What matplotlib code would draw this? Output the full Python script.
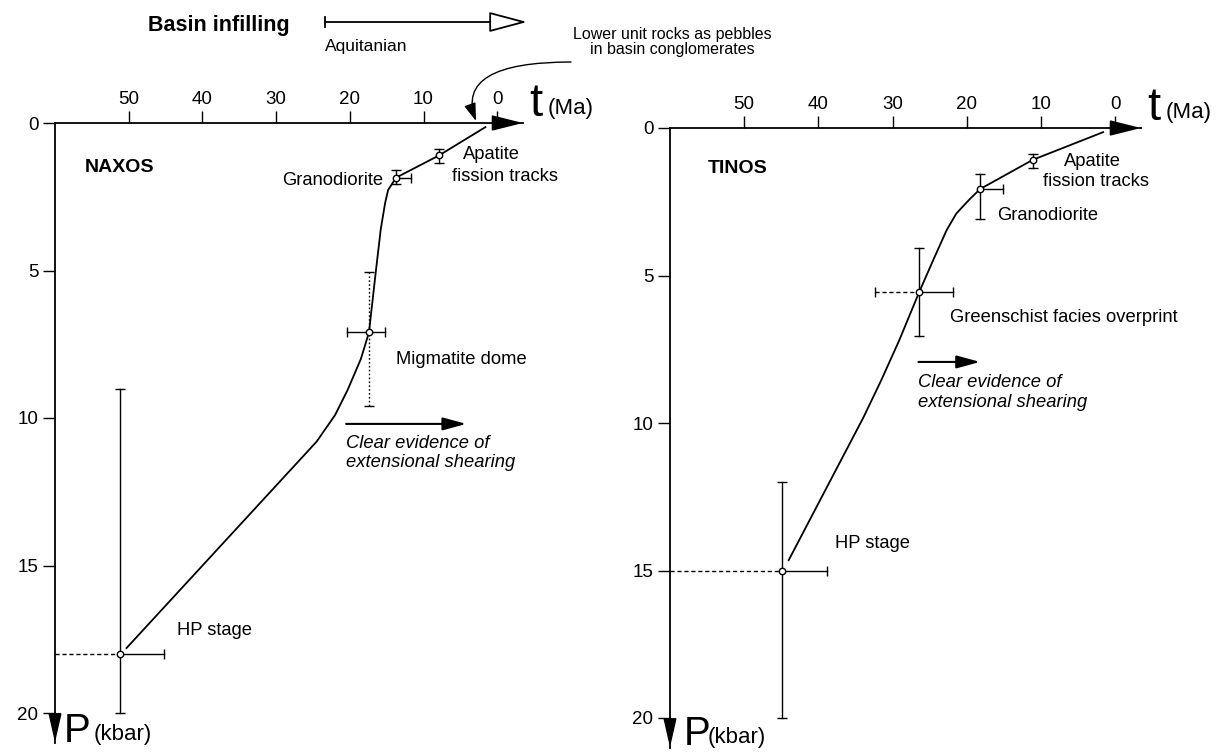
import matplotlib
matplotlib.use("Agg")
import matplotlib.pyplot as plt
from matplotlib.patches import FancyArrowPatch
from matplotlib.lines import Line2D

plt.rcParams['font.family'] = ['Liberation Sans', 'DejaVu Sans']

# ---------------- data ----------------
T_TICKS = [50, 40, 30, 20, 10, 0]
P_TICKS = [0, 5, 10, 15, 20]

# NAXOS P-T-t path (t in Ma, P in kbar)
naxos_curve_t = [50.3, 24.5, 22.0, 20.3, 18.5, 17.4, 16.5, 15.8, 15.2, 14.8, 14.1, 13.7, 7.9, 1.6]
naxos_curve_P = [17.8, 10.8, 9.9, 9.05, 8.0, 7.1, 5.1, 3.6, 2.7, 2.27, 2.0, 1.85, 1.1, 0.14]
naxos_labels = ["HP stage", "Migmatite dome", "Granodiorite", "Apatite fission tracks"]
naxos_t = [51.2, 17.4, 13.7, 7.9]
naxos_P = [18.0, 7.1, 1.85, 1.1]
naxos_t_old = [60.0, 20.4, None, None]
naxos_t_young = [45.2, 15.2, 11.7, None]
naxos_P_low = [9.0, 5.05, 1.6, 0.88]
naxos_P_high = [20.0, 9.6, 2.07, 1.36]

# TINOS P-T-t path
tinos_curve_t = [44.0, 38.9, 33.9, 31.5, 29.1, 26.4, 24.5, 22.7, 21.4, 19.7, 18.2, 11.1, 1.6]
tinos_curve_P = [14.65, 12.2, 9.8, 8.54, 7.2, 5.56, 4.47, 3.46, 2.9, 2.44, 2.07, 1.08, 0.14]
tinos_labels = ["HP stage", "Greenschist facies overprint", "Granodiorite", "Apatite fission tracks"]
tinos_t = [44.9, 26.4, 18.2, 11.1]
tinos_P = [15.0, 5.56, 2.07, 1.1]
tinos_t_old = [60.0, 32.3, None, None]
tinos_t_young = [38.9, 21.8, 15.1, None]
tinos_P_low = [12.0, 4.07, 1.56, 0.88]
tinos_P_high = [20.0, 7.05, 3.08, 1.36]

# styles for error bars (kept separately from values)
naxos_style = dict(old=[('dash', False), ('solid', True), None, None],
                   young=[True, True, True, None],
                   vert=['solid', 'dot', 'solid', 'solid'])
tinos_style = dict(old=[('dash', False), ('dash', True), None, None],
                   young=[True, True, True, None],
                   vert=['solid', 'solid', 'solid', 'solid'])

LS = {'solid': '-', 'dash': (0, (3.0, 2.0)), 'dot': (0, (1.2, 1.6))}

W, H = 1218, 754
fig = plt.figure(figsize=(W / 100, H / 100), dpi=100)

ax1 = fig.add_axes([55 / W, 1 - 742.5 / H, 468 / W, 619.5 / H])
ax2 = fig.add_axes([670 / W, 1 - 747.5 / H, 471 / W, 619.5 / H])


def setup(ax):
    ax.set_xlim(60, -3.5)
    ax.set_ylim(21, 0)
    ax.patch.set_alpha(0)
    for s in ['right', 'bottom']:
        ax.spines[s].set_visible(False)
    for s in ['top', 'left']:
        ax.spines[s].set_linewidth(1.3)
    ax.xaxis.tick_top()
    ax.set_xticks(T_TICKS)
    ax.set_yticks(P_TICKS)
    ax.tick_params(axis='x', direction='out', length=9, width=1, labelsize=13.5, pad=2)
    ax.tick_params(axis='y', direction='out', length=9, width=1, labelsize=13.5, pad=3)
    ax.annotate('', xy=(-3.5, 0), xytext=(-1.0, 0),
                arrowprops=dict(arrowstyle='-|>,head_length=1.2,head_width=0.3',
                                lw=1.3, color='k', mutation_scale=16, shrinkA=0, shrinkB=0),
                annotation_clip=False)
    ax.annotate('', xy=(60, 21), xytext=(60, 20.0),
                arrowprops=dict(arrowstyle='-|>,head_length=1.1,head_width=0.25',
                                lw=1.3, color='k', mutation_scale=16, shrinkA=0, shrinkB=0),
                annotation_clip=False)


def draw_points(ax, t, P, t_old, t_young, P_low, P_high, style):
    for i in range(len(t)):
        ls = LS[style['vert'][i]]
        ax.plot([t[i], t[i]], [P_low[i], P_high[i]], color='k', lw=1.0, ls=ls, clip_on=False)
        ax.plot([t[i], t[i]], [P_low[i], P_high[i]], ls='none', marker='_', ms=7,
                mew=1.0, color='k', clip_on=False)
        if t_old[i] is not None:
            st, cap = style['old'][i]
            ax.plot([t_old[i], t[i]], [P[i], P[i]], color='k', lw=1.0, ls=LS[st], clip_on=False)
            if cap:
                ax.plot([t_old[i]], [P[i]], ls='none', marker='|', ms=7, mew=1.0, color='k')
        if t_young[i] is not None:
            ax.plot([t[i], t_young[i]], [P[i], P[i]], color='k', lw=1.0, clip_on=False)
            if style['young'][i]:
                ax.plot([t_young[i]], [P[i]], ls='none', marker='|', ms=7, mew=1.0, color='k')
    ax.plot(t, P, ls='none', marker='o', ms=4.6, mfc='white', mec='k', mew=1.0, zorder=5,
            clip_on=False)


for ax in (ax1, ax2):
    setup(ax)

ax1.plot(naxos_curve_t, naxos_curve_P, color='k', lw=1.3, zorder=4)
ax2.plot(tinos_curve_t, tinos_curve_P, color='k', lw=1.3, zorder=4)
draw_points(ax1, naxos_t, naxos_P, naxos_t_old, naxos_t_young, naxos_P_low, naxos_P_high, naxos_style)
draw_points(ax2, tinos_t, tinos_P, tinos_t_old, tinos_t_young, tinos_P_low, tinos_P_high, tinos_style)

FS = 13.2
# ---- NAXOS labels ----
ax1.text(55.9, 1.5, "NAXOS", fontsize=14, fontweight='bold', ha='left', va='center')
ax1.text(15.5, 1.95, "Granodiorite", fontsize=FS, ha='right', va='center')
ax1.text(4.6, 1.08, "Apatite", fontsize=FS, ha='left', va='center')
ax1.text(6.1, 1.83, "fission tracks", fontsize=FS, ha='left', va='center')
ax1.text(13.7, 8.03, "Migmatite dome", fontsize=FS, ha='left', va='center')
ax1.annotate('', xy=(4.2, 10.2), xytext=(20.5, 10.2),
             arrowprops=dict(arrowstyle='-|>,head_length=1.1,head_width=0.3',
                             lw=1.5, color='k', mutation_scale=13, shrinkA=0, shrinkB=0))
ax1.text(20.5, 10.85, "Clear evidence of", fontsize=FS, style='italic', ha='left', va='center')
ax1.text(20.5, 11.52, "extensional shearing", fontsize=FS, style='italic', ha='left', va='center')
ax1.text(43.4, 17.2, "HP stage", fontsize=FS, ha='left', va='center')

# ---- TINOS labels ----
ax2.text(54.9, 1.36, "TINOS", fontsize=14, fontweight='bold', ha='left', va='center')
ax2.text(6.9, 1.15, "Apatite", fontsize=FS, ha='left', va='center')
ax2.text(9.7, 1.8, "fission tracks", fontsize=FS, ha='left', va='center')
ax2.text(15.9, 2.95, "Granodiorite", fontsize=FS, ha='left', va='center')
ax2.text(22.3, 6.44, "Greenschist facies overprint", fontsize=FS, ha='left', va='center')
ax2.annotate('', xy=(18.2, 7.93), xytext=(26.5, 7.93),
             arrowprops=dict(arrowstyle='-|>,head_length=1.1,head_width=0.3',
                             lw=1.5, color='k', mutation_scale=13, shrinkA=0, shrinkB=0))
ax2.text(26.5, 8.64, "Clear evidence of", fontsize=FS, style='italic', ha='left', va='center')
ax2.text(26.5, 9.3, "extensional shearing", fontsize=FS, style='italic', ha='left', va='center')
ax2.text(37.7, 14.07, "HP stage", fontsize=FS, ha='left', va='center')


def fx(px):
    return px / W


def fy(py):
    return 1 - py / H


# axis titles
fig.text(fx(529), fy(116), "t", fontsize=34, ha='left', va='baseline')
fig.text(fx(548), fy(114), "(Ma)", fontsize=16, ha='left', va='baseline')
fig.text(fx(1147), fy(120), "t", fontsize=34, ha='left', va='baseline')
fig.text(fx(1166), fy(118), "(Ma)", fontsize=16, ha='left', va='baseline')
fig.text(fx(64), fy(742), "P", fontsize=29, ha='left', va='baseline')
fig.text(fx(94), fy(740), "(kbar)", fontsize=16, ha='left', va='baseline')
fig.text(fx(684), fy(745), "P", fontsize=29, ha='left', va='baseline')
fig.text(fx(708), fy(743), "(kbar)", fontsize=16, ha='left', va='baseline')

# top annotations
fig.text(fx(148), fy(25), "Basin infilling", fontsize=15.5, fontweight='bold', ha='left', va='center')
fig.add_artist(FancyArrowPatch(
    (fx(325), fy(22)), (fx(527), fy(22)), transform=fig.transFigure,
    arrowstyle='-|>,head_length=1.2,head_width=0.32',
    mutation_scale=20, lw=1.3, ec='k', fc='white', shrinkA=0, shrinkB=0))
fig.add_artist(Line2D([fx(325), fx(325)], [fy(17), fy(27)], transform=fig.transFigure,
                      color='k', lw=1.3))
fig.text(fx(325), fy(47), "Aquitanian", fontsize=12.5, ha='left', va='center')
fig.text(fx(672), fy(42), "Lower unit rocks as pebbles\nin basin conglomerates", fontsize=11.5,
         ha='center', va='center', linespacing=1.05)
fig.add_artist(FancyArrowPatch(
    (fx(571), fy(62)), (fx(476), fy(121)), transform=fig.transFigure,
    connectionstyle="angle3,angleA=180,angleB=110",
    arrowstyle='-|>,head_length=0.9,head_width=0.3', mutation_scale=12,
    lw=1.0, color='k', shrinkA=0, shrinkB=0))

fig.savefig("out.png", dpi=100)
